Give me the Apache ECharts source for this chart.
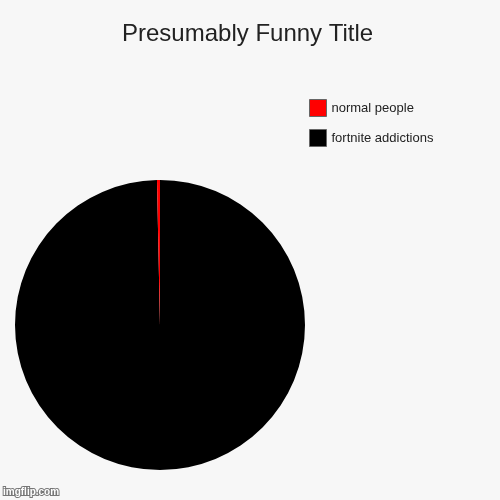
<!DOCTYPE html>
<html>
<head>
<meta charset="utf-8">
<script src="https://cdn.jsdelivr.net/npm/echarts@6/dist/echarts.min.js"></script>
<style>
html,body{margin:0;padding:0;background:#f7f7f7;}
#chart{width:500px;height:500px;}
</style>
</head>
<body>
<div id="chart"></div>
<script>
const titleText = 'Presumably Funny Title';
const categories = ['fortnite addictions', 'normal people'];
const values = [300, 1];
const colors = ['#000000', '#ff0000'];
const legendOrder = ['normal people', 'fortnite addictions'];

const chart = echarts.init(document.getElementById('chart'));
chart.setOption({
  backgroundColor: '#f7f7f7',
  animation: false,
  title: {
    text: titleText,
    left: 117,
    top: 17,
    textStyle: {
      fontFamily: 'Liberation Sans, Arial, sans-serif',
      fontSize: 24,
      fontWeight: 'normal',
      color: '#222222'
    }
  },
  legend: {
    orient: 'vertical',
    left: 304,
    top: 94,
    itemWidth: 17,
    itemHeight: 17,
    itemGap: 12,
    icon: 'rect',
    data: legendOrder,
    itemStyle: { borderColor: '#666666', borderWidth: 1 },
    textStyle: {
      fontFamily: 'Liberation Sans, Arial, sans-serif',
      fontSize: 13,
      color: '#222222'
    }
  },
  series: [{
    type: 'pie',
    center: [160, 325],
    radius: 145,
    startAngle: 90,
    clockwise: true,
    label: { show: false },
    labelLine: { show: false },
    emphasis: { disabled: true },
    itemStyle: { borderWidth: 0 },
    data: categories.map((c, i) => ({ name: c, value: values[i], itemStyle: { color: colors[i] } }))
  }],
  graphic: [{
    type: 'text',
    left: 2,
    top: 486,
    style: {
      text: 'imgflip.com',
      font: 'bold 10px Liberation Sans, Arial, sans-serif',
      fill: '#ffffff',
      stroke: '#777777',
      lineWidth: 2
    }
  }]
});
</script>
</body>
</html>
